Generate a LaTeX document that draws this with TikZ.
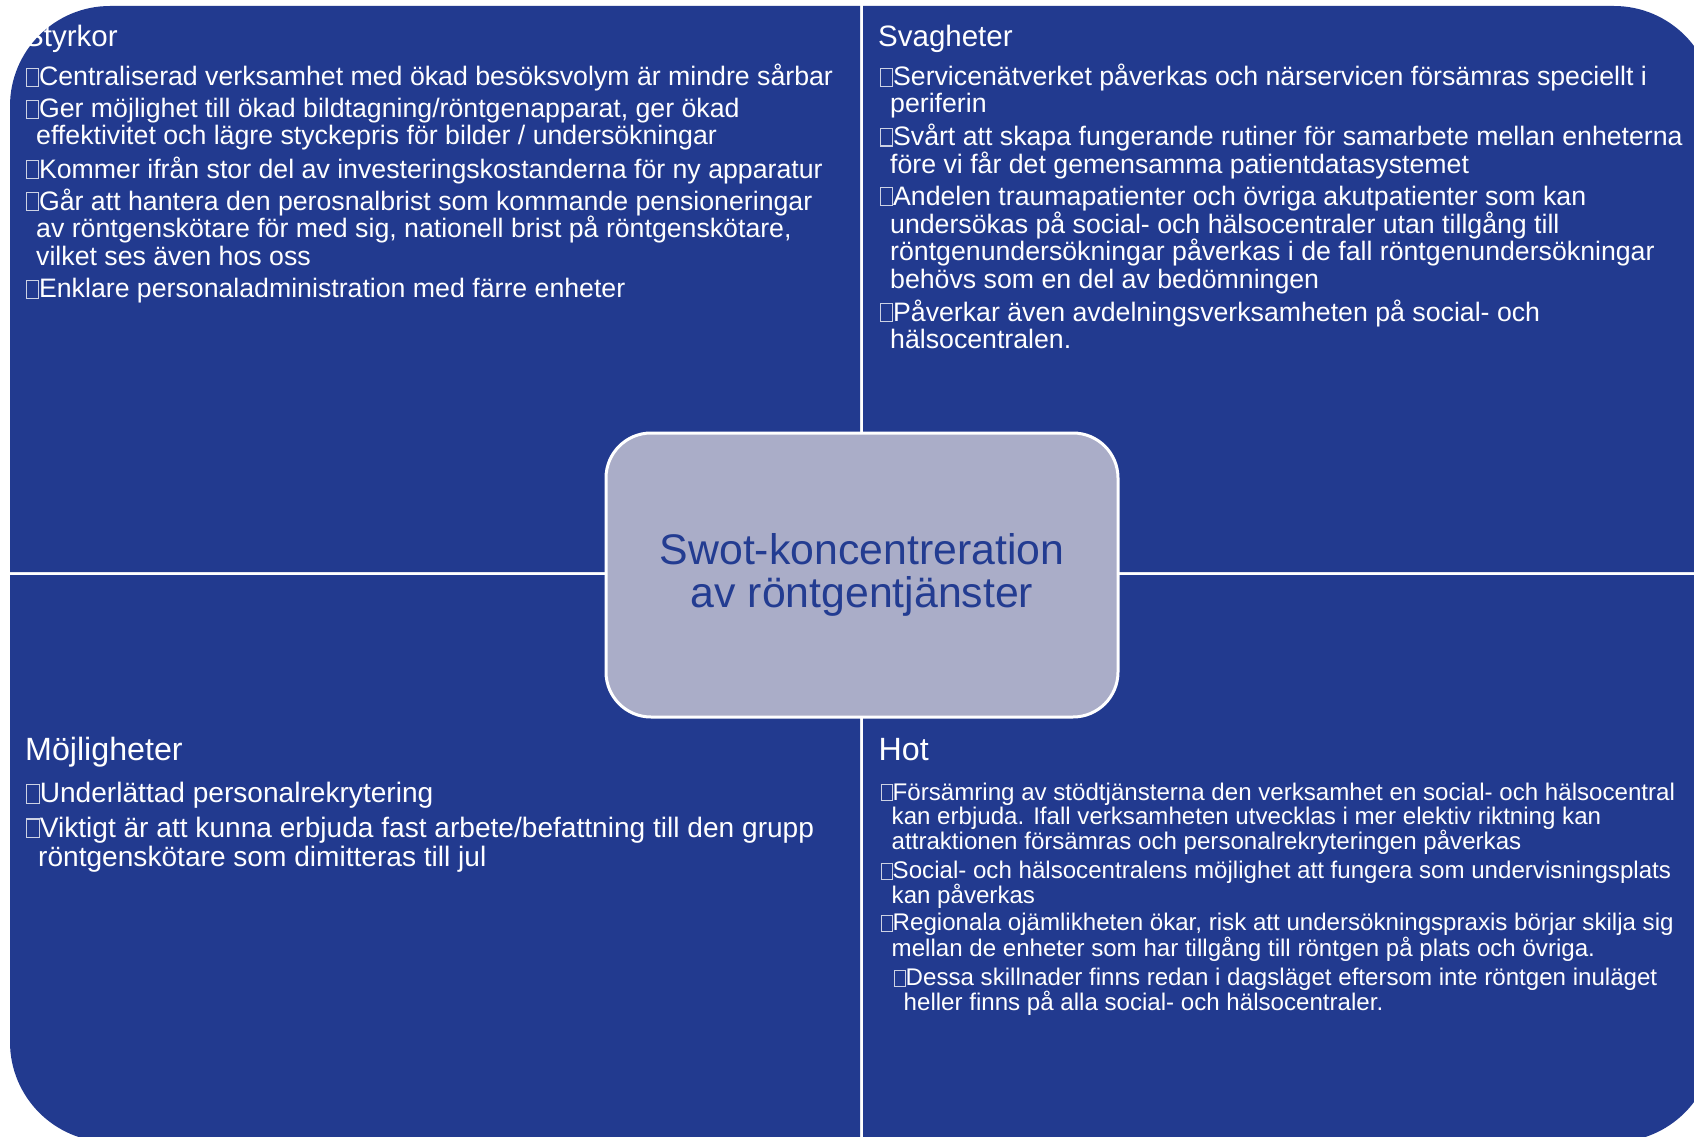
\documentclass[tikz,border=0pt]{standalone}
\usepackage{fontspec}
\setmainfont{Liberation Sans}
\definecolor{qblue}{RGB}{34,58,143}
\definecolor{cfill}{RGB}{170,173,200}
\definecolor{ctext}{RGB}{35,60,145}
\definecolor{boxc}{RGB}{205,210,228}
\newcommand\bx{\leavevmode\hbox to 0.52em{\kern0.03em{\fboxsep=0pt\fboxrule=0.045em\color{boxc}\fbox{\rule{0pt}{0.62em}\rule{0.40em}{0pt}}}\hss}}
\begin{document}
\begin{tikzpicture}[x=1pt,y=-1pt,
  quad/.style={fill=qblue},
  txt/.style={anchor=base west, inner sep=0pt, text=white},
  headT/.style={txt, font=\fontsize{29.5}{30}\selectfont},
  headB/.style={txt, font=\fontsize{32.2}{33}\selectfont},
  bodyA/.style={txt, font=\fontsize{26.7}{27}\selectfont},
  bodyM/.style={txt, font=\fontsize{28.1}{29}\selectfont},
  bodyH/.style={txt, font=\fontsize{24.1}{25}\selectfont},
  centerbox/.style={rectangle, rounded corners=45pt, minimum width=512pt, minimum height=284pt,
     fill=cfill, draw=white, line width=3pt, align=center, text=ctext, inner sep=0pt,
     font=\fontsize{42.8}{43}\selectfont}]
\useasboundingbox (0,0) rectangle (1694,1137);
\fill[white] (0,0) rectangle (1694,1137);
\begin{scope}
\clip (0,0) rectangle (1694,1137);
\fill[quad] (860,572) -- (10,572) -- (10,106) .. controls (10,50.77) and (54.77,6) .. (110,6) -- (860,6) -- cycle;
\fill[quad] (863,6) -- (1614,6) .. controls (1669.23,6) and (1714,50.77) .. (1714,106) -- (1714,572) -- (863,572) -- cycle;
\fill[quad] (10,575) -- (860,575) -- (860,1142) -- (110,1142) .. controls (54.77,1142) and (10,1097.23) .. (10,1042) -- cycle;
\fill[quad] (863,575) -- (1714,575) -- (1714,1042) .. controls (1714,1097.23) and (1669.23,1142) .. (1614,1142) -- (863,1142) -- cycle;
\end{scope}

\node[centerbox] (c) at (862,575) {Swot-koncentreration\\av röntgentjänster};

% Styrkor
\node[headT] (s0) at (24,47) {Styrkor};
\node[bodyA] (s1) at (25,86) {\bx Centraliserad verksamhet med ökad besöksvolym är mindre sårbar};
\node[bodyA] (s2) at (25,118) {\bx Ger möjlighet till ökad bildtagning/röntgenapparat, ger ökad};
\node[bodyA] (s3) at (36,145) {effektivitet och lägre styckepris för bilder / undersökningar};
\node[bodyA] (s4) at (25,178) {\bx Kommer ifrån stor del av investeringskostanderna för ny apparatur};
\node[bodyA] (s5) at (25,210) {\bx Går att hantera den perosnalbrist som kommande pensioneringar};
\node[bodyA] (s6) at (36,237) {av röntgenskötare för med sig, nationell brist på röntgenskötare,};
\node[bodyA] (s7) at (36,265) {vilket ses även hos oss};
\node[bodyA] (s8) at (25,297.5) {\bx Enklare personaladministration med färre enheter};

% Svagheter
\node[headT] (w0) at (878,47) {Svagheter};
\node[bodyA] (w1) at (879,86) {\bx Servicenätverket påverkas och närservicen försämras speciellt i};
\node[bodyA] (w2) at (890,113) {periferin};
\node[bodyA] (w3) at (879,145.5) {\bx Svårt att skapa fungerande rutiner för samarbete mellan enheterna};
\node[bodyA] (w4) at (890,173) {före vi får det gemensamma patientdatasystemet};
\node[bodyA] (w5) at (879,205) {\bx Andelen traumapatienter och övriga akutpatienter som kan};
\node[bodyA] (w6) at (890,233) {undersökas på social- och hälsocentraler utan tillgång till};
\node[bodyA] (w7) at (890,260.5) {röntgenundersökningar påverkas i de fall röntgenundersökningar};
\node[bodyA] (w8) at (890,288) {behövs som en del av bedömningen};
\node[bodyA] (w9) at (879,321) {\bx Påverkar även avdelningsverksamheten på social- och};
\node[bodyA] (w10) at (890,348.5) {hälsocentralen.};

% Möjligheter
\node[headB] (m0) at (25,760) {Möjligheter};
\node[bodyM] (m1) at (25,802.5) {\bx Underlättad personalrekrytering};
\node[bodyM] (m2) at (25,837) {\bx Viktigt är att kunna erbjuda fast arbete/befattning till den grupp};
\node[bodyM] (m3) at (38,866) {röntgenskötare som dimitteras till jul};

% Hot
\node[headB] (h0) at (878.5,760) {Hot};
\node[bodyH] (h1) at (880,800) {\bx Försämring av stödtjänsterna den verksamhet en social- och hälsocentral};
\node[bodyH] (h2) at (891.5,824.8) {kan erbjuda. Ifall verksamheten utvecklas i mer elektiv riktning kan};
\node[bodyH] (h3) at (891.5,849.6) {attraktionen försämras och personalrekryteringen påverkas};
\node[bodyH] (h4) at (880,878.8) {\bx Social- och hälsocentralens möjlighet att fungera som undervisningsplats};
\node[bodyH] (h5) at (891.5,903.7) {kan påverkas};
\node[bodyH] (h6) at (880,930.7) {\bx Regionala ojämlikheten ökar, risk att undersökningspraxis börjar skilja sig};
\node[bodyH] (h7) at (891.5,956.6) {mellan de enheter som har tillgång till röntgen på plats och övriga.};
\node[bodyH] (h8) at (893,985.8) {\bx Dessa skillnader finns redan i dagsläget eftersom inte röntgen inuläget};
\node[bodyH] (h9) at (903.5,1010.6) {heller finns på alla social- och hälsocentraler.};
\end{tikzpicture}
\end{document}
